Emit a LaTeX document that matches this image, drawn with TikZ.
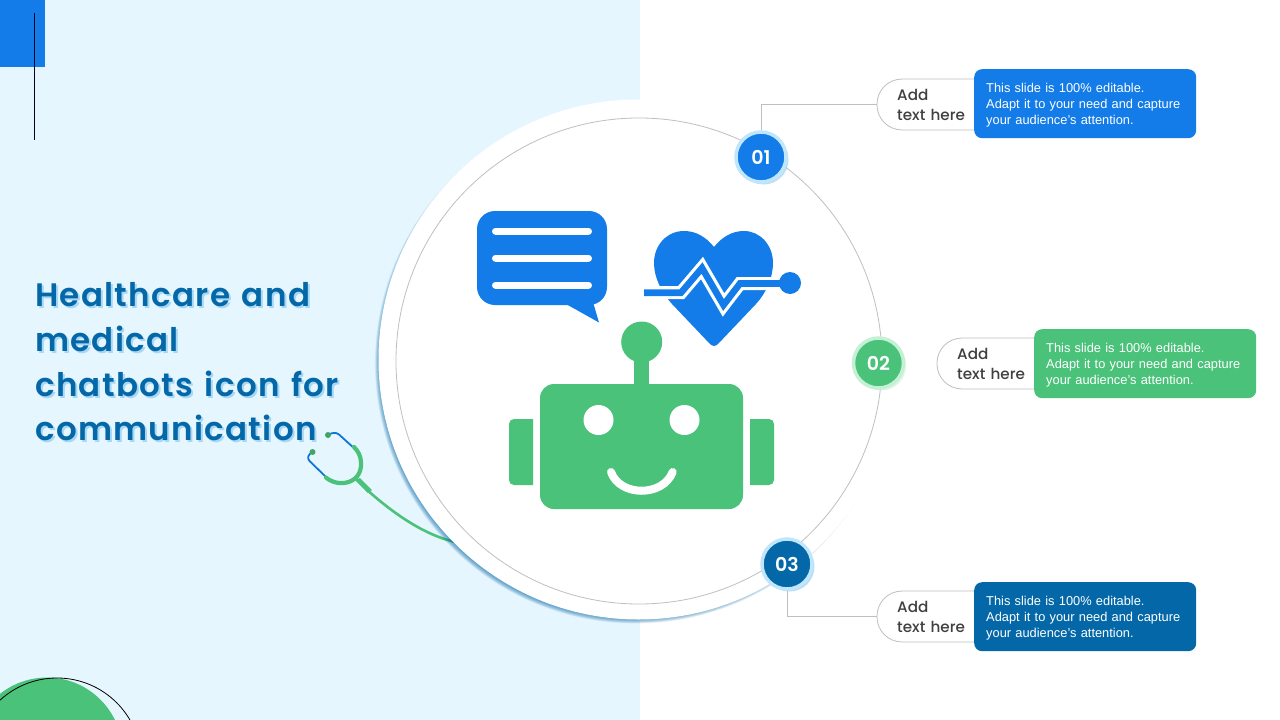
\documentclass[tikz,border=0pt]{standalone}
\usepackage{fontspec}
\usetikzlibrary{shadows}
\setmainfont{Liberation Sans}
\newfontfamily\popfont{Poppins Medium}
\newfontfamily\digitfont{Poppins SemiBold}
\newfontfamily\titlefont[LetterSpace=4,WordSpace=1.3]{Poppins SemiBold}
\definecolor{panelbg}{HTML}{E6F6FF}
\definecolor{mblue}{HTML}{137CE8}
\definecolor{mgreen}{HTML}{4AC27A}
\definecolor{mdark}{HTML}{0468A8}
\definecolor{ringblue}{HTML}{BFE6FA}
\definecolor{ringgreen}{HTML}{C4F0D6}
\definecolor{edgegray}{HTML}{BFBFBF}
\definecolor{halo}{HTML}{8CCBEF}
\definecolor{darktext}{HTML}{404040}
\tikzset{
  x=1pt,y=-1pt,
  badge/.style={circle,minimum size=50pt,inner sep=0pt,line width=3.5pt,text=white,
    font=\digitfont\fontsize{19}{22}\selectfont},
  badgeshade/.style={drop shadow={shadow xshift=2.5pt,shadow yshift=-2.5pt,opacity=.6,fill=#1}},
  pilltext/.style={anchor=west,minimum height=50.5pt,text width=85pt,inner xsep=20pt,inner ysep=0pt,
    align=left,text=darktext,font=\popfont\fontsize{15.2}{20}\selectfont},
  pilledge/.style={draw=edgegray,line width=.8pt},
  infobox/.style={anchor=north west,rounded corners=8pt,minimum width=222pt,minimum height=69pt,
    text width=198pt,inner xsep=12pt,inner ysep=0pt,align=left,text=white,
    font=\fontsize{12.83}{16}\selectfont,execute at begin node={\rule{0pt}{11.5pt}}},
  titletext/.style={anchor=north west,inner sep=0pt,align=left,
    font=\titlefont\fontsize{32.5}{44.7}\selectfont},
  connector/.style={draw=edgegray,line width=.9pt},
  greenpart/.style={fill=mgreen},
  bluepart/.style={fill=mblue}
}
\begin{document}
\begin{tikzpicture}
\useasboundingbox (0,0) rectangle (1280,720);
% background
\fill[white] (0,0) rectangle (1280,720);
\fill[panelbg] (0,0) rectangle (640,720);
\fill[mblue] (0,0) rectangle (45,67);
\draw[black!85!blue,line width=1pt] (34,13) -- (34,140);
% bottom-left circle
\begin{scope}
\clip (0,0) rectangle (1280,720);
\fill[mgreen] (47,753) circle (75.5);
\draw[black,line width=.8pt] (57,762.4) circle (84.4);
\end{scope}
% stethoscope
\draw[mblue!70!mdark,line width=1.8pt,line cap=round,line join=round]
  (327,478) -- (309.5,461) .. controls (307,458) and (308,455) .. (312,452);
\draw[mblue!70!mdark,line width=1.8pt,line cap=round,line join=round]
  (355,449) -- (339,434.5) .. controls (336,432) and (332,432.5) .. (328,435);
\fill[mgreen!85!black] (312.5,452) circle (3);
\fill[mgreen!85!black] (328,435) circle (3);
\draw[mgreen,line width=4.2pt,line cap=round]
  (326,477.5) .. controls (338,488) and (362,484) .. (361,463) .. controls (361,456) and (358,451) .. (354,447);
\fill[mgreen] (355,480) -- (360,478) -- (372,490) -- (368,493) -- cycle;
\draw[mgreen,line width=2.6pt] (366,489) .. controls (395,515) and (425,535) .. (455,542);
% big circle with its shadow
\foreach \k in {0,...,15}{
  \fill[mdark,opacity=.06] (635.5,363) circle (255+\k*.37);
}
\fill[white] (638.5,359.5) circle (260);
\draw[edgegray,line width=.8pt] (639,361) circle (243);
% speech bubble
\fill[bluepart,rounded corners=18pt] (477,211) rectangle (607,305);
\fill[bluepart] (566,304) -- (599,322.5) -- (593,302) -- cycle;
\foreach \yy in {231,258,285}{
  \draw[white,line width=7pt,line cap=round] (495.5,\yy) -- (588.5,\yy);
}
% heart with pulse
\fill[bluepart] (714,247) .. controls (706,237) and (696,231) .. (684,231)
  .. controls (667,231) and (654,245) .. (654,263)
  .. controls (654,278) and (662,293) .. (672,304) -- (710,344)
  .. controls (712.5,346.5) and (715.5,346.5) .. (718,344) -- (756,304)
  .. controls (766,293) and (773,278) .. (773,263)
  .. controls (773,245) and (760,231) .. (744,231)
  .. controls (732,231) and (722,237) .. (714,247) -- cycle;
\draw[white,line width=13pt,miter limit=10] (640,292.7) -- (681,292.7) -- (702,268) -- (723.5,305) -- (740,283.5) -- (785,283.5);
\draw[mblue,line width=6.6pt,miter limit=10] (644,292.7) -- (681,292.7) -- (702,268) -- (723.5,305) -- (740,283.5) -- (785,283.5);
\fill[bluepart] (790,283) circle (11);
% robot
\fill[greenpart] (641.7,342) circle (20.5);
\fill[greenpart] (634,355) rectangle (649,390);
\fill[greenpart,rounded corners=14pt] (540,384) rectangle (743,509);
\fill[greenpart] (533,419) [rounded corners=5pt] -- (509,419) -- (509,485) [sharp corners] -- (533,485) -- cycle;
\fill[greenpart] (750,419) [rounded corners=5pt] -- (774,419) -- (774,485) [sharp corners] -- (750,485) -- cycle;
\fill[white] (598.5,420) circle (15);
\fill[white] (684.5,420) circle (15);
\draw[white,line width=8pt,line cap=round] (611,472) .. controls (620,497) and (663,497) .. (672.7,472);
% title
\node[titletext,text=halo,opacity=.7] (titleglow) at (37,284.5) {Healthcare and\\medical\\chatbots icon for\\communication};
\node[titletext,text=mdark] (title) at (35,282.5) {Healthcare and\\medical\\chatbots icon for\\communication};
% pills
\node[pilltext] (pill1) at (877,104.5) {Add\\text here};
\node[pilltext] (pill2) at (937,363.5) {Add\\text here};
\node[pilltext] (pill3) at (877,616.5) {Add\\text here};
\foreach \p in {pill1,pill2,pill3}{
  \draw[pilledge] (\p.north east) [rounded corners=25pt] -- (\p.north west) -- (\p.south west) [sharp corners] -- (\p.south east);
}
% boxes
\node[infobox,fill=mblue] (box1) at (974,69) {This slide is 100\% editable.\\Adapt it to your need and capture\\your audience's attention.};
\node[infobox,fill=mgreen] (box2) at (1034,329) {This slide is 100\% editable.\\Adapt it to your need and capture\\your audience's attention.};
\node[infobox,fill=mdark] (box3) at (974,582) {This slide is 100\% editable.\\Adapt it to your need and capture\\your audience's attention.};
% badges
\node[badge,badgeshade=halo,fill=mblue,draw=ringblue] (badge1) at (761,157) {01};
\node[badge,badgeshade=ringgreen,fill=mgreen,draw=ringgreen] (badge2) at (878.5,363) {02};
\node[badge,badgeshade=halo,fill=mdark,draw=ringblue] (badge3) at (787,564) {03};
% connectors
\draw[connector] (badge1) |- (pill1.west);
\draw[connector] (badge3) |- (pill3.west);
\end{tikzpicture}
\end{document}
